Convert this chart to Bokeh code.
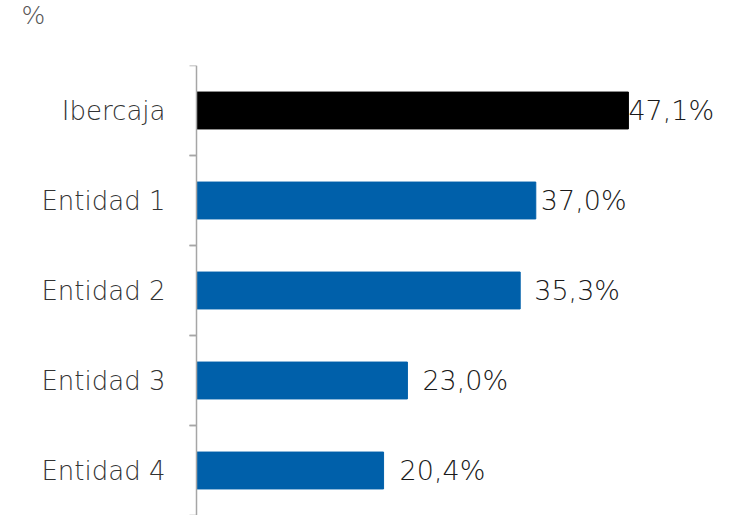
from bokeh.plotting import figure
from bokeh.layouts import column
from bokeh.models import ColumnDataSource, FactorRange, Range1d, Span
from bokeh.transform import dodge
from bokeh.core.properties import value
from bokeh.embed import file_html
from bokeh.resources import INLINE

# ---- data ----
categories = ["Ibercaja", "Entidad 1", "Entidad 2", "Entidad 3", "Entidad 4"]
values = [47.1, 37.0, 35.3, 23.0, 20.4]
value_labels = ["47,1%", "37,0%", "35,3%", "23,0%", "20,4%"]
unit_label = "%"

# ---- styles ----
bar_colors = ["#000000", "#0060AA", "#0060AA", "#0060AA", "#0060AA"]
label_offsets = [0, 5, 14, 15, 16]
axis_gray = "#a6a6a6"
FONT = "DejaVu Sans Light"

W = 733
HEAD_H = 65
FRAME_H = 450
left_border = 186
frame_w = W - left_border
px_per_unit = 9.17
x_start = -10 / px_per_unit
x_end = x_start + frame_w / px_per_unit
tick_len = 7 / px_per_unit

# ---- header strip carrying the unit label as its title ----
head = figure(width=W, height=HEAD_H, output_backend="svg",
              toolbar_location=None, x_range=Range1d(0, 1),
              y_range=Range1d(0, 1), min_border=0, title=unit_label)
head.axis.visible = False
head.grid.visible = False
head.outline_line_color = None
head.title.align = "left"
head.title.vertical_align = "top"
head.title.offset = 21 - left_border
head.title.standoff = 0
head.title.text_font = FONT
head.title.text_font_style = "normal"
head.title.text_font_size = "25px"
head.title.text_color = "#555555"

# ---- main bar chart ----
src = ColumnDataSource(dict(
    cat=categories, val=values, lab=value_labels, color=bar_colors,
    off=label_offsets, zero=[0] * len(categories),
    t0=[-tick_len] * len(categories),
))

p = figure(width=W, height=FRAME_H, output_backend="svg", toolbar_location=None,
           y_range=FactorRange(factors=categories[::-1]),
           x_range=Range1d(x_start, x_end),
           min_border_left=left_border, min_border_right=0,
           min_border_top=0, min_border_bottom=0)
p.outline_line_color = None
p.xgrid.visible = False
p.ygrid.visible = False
p.xaxis.visible = False
p.background_fill_color = "white"
p.border_fill_color = "white"

yax = p.yaxis[0]
yax.axis_line_color = None
yax.major_tick_line_color = None
yax.minor_tick_line_color = None
yax.major_tick_out = 0
yax.major_tick_in = 0
yax.major_label_standoff = 21
yax.major_label_text_font = FONT
yax.major_label_text_font_size = "26px"
yax.major_label_text_color = "#333333"

p.hbar(y="cat", left=0, right="val", height=0.41, fill_color="color",
       line_color="color", source=src)

for d in (0.5, -0.5):
    yy = dodge("cat", d, range=p.y_range)
    p.segment(x0="t0", x1="zero", y0=yy, y1=yy, line_color=axis_gray,
              line_width=1.5, source=src)

p.add_layout(Span(location=0, dimension="height", line_color=axis_gray,
                  line_width=1.5))

p.text(x="val", y="cat", text="lab", x_offset="off", source=src,
       text_baseline="middle", text_align="left",
       text_font=value(FONT), text_font_size="27px", text_color="#1a1a1a")

layout = column(head, p, spacing=0)
open("out.html", "w").write(file_html(layout, INLINE))
